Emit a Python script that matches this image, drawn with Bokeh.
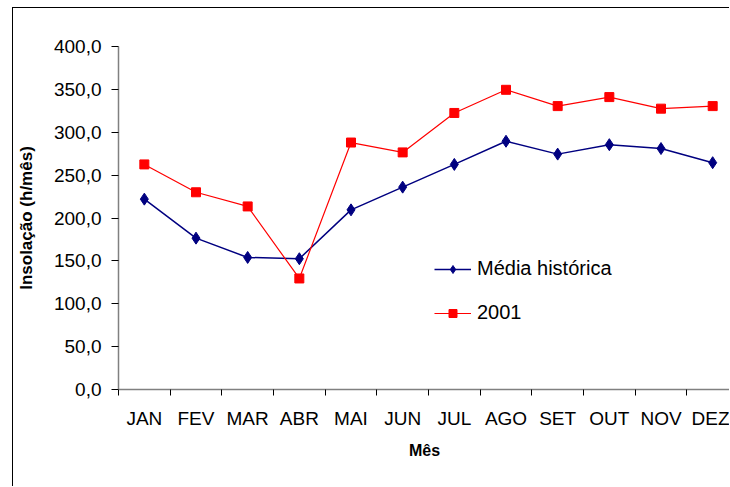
from bokeh.plotting import figure
from bokeh.models import Range1d, FixedTicker, Legend, LegendItem
from bokeh.embed import file_html
from bokeh.resources import INLINE

months = ["JAN", "FEV", "MAR", "ABR", "MAI", "JUN", "JUL", "AGO", "SET", "OUT", "NOV", "DEZ"]
media_historica = [222.0, 176.5, 154.0, 152.5, 209.5, 236.0, 262.5, 289.5, 274.5, 285.5, 281.0, 264.5]
serie_2001 = [262.5, 230.0, 213.5, 129.5, 288.0, 276.5, 322.5, 349.5, 330.5, 341.0, 327.5, 330.5]
y_ticks = [0, 50, 100, 150, 200, 250, 300, 350, 400]
y_tick_labels = ["0,0", "50,0", "100,0", "150,0", "200,0", "250,0", "300,0", "350,0", "400,0"]

x_pos = [i + 0.5 for i in range(len(months))]

FONT = "Liberation Sans"

p = figure(width=717, height=479, output_backend="svg", toolbar_location=None,
           x_range=Range1d(0, 11.845), y_range=Range1d(0, 400),
           min_border_left=105, min_border_right=0, min_border_top=38, min_border_bottom=98)
p.margin = (7, 0, 0, 12)
p.styles = {"border-left": "1px solid black", "border-top": "1px solid black"}
p.outline_line_color = None
p.xgrid.visible = False
p.ygrid.visible = False
p.background_fill_color = "white"
p.border_fill_color = "white"

# axes
xa = p.xaxis[0]
xa.ticker = FixedTicker(ticks=x_pos, minor_ticks=list(range(len(months) + 1)))
xa.major_label_overrides = {x: m for x, m in zip(x_pos, months)}
xa.major_tick_out = 0
xa.major_tick_in = 0
xa.minor_tick_out = 6
xa.minor_tick_in = 0
xa.minor_tick_line_color = "black"
xa.axis_line_color = "#808080"
xa.axis_line_width = 1.5
xa.major_label_text_font = FONT
xa.major_label_text_font_size = "19px"
xa.major_label_text_color = "black"
xa.major_label_standoff = 12
xa.axis_label = "Mês"
xa.axis_label_text_font = FONT
xa.axis_label_text_font_style = "bold"
xa.axis_label_text_font_size = "16px"
xa.axis_label_text_color = "black"
xa.axis_label_standoff = 10

ya = p.yaxis[0]
ya.ticker = FixedTicker(ticks=y_ticks, minor_ticks=[])
ya.major_label_overrides = {t: l for t, l in zip(y_ticks, y_tick_labels)}
ya.major_tick_out = 7
ya.major_tick_in = 0
ya.major_tick_line_color = "black"
ya.axis_line_color = "#808080"
ya.axis_line_width = 1.5
ya.major_label_text_font = FONT
ya.major_label_text_font_size = "19px"
ya.major_label_text_color = "black"
ya.major_label_standoff = 10
ya.axis_label = "Insolação (h/mês)"
ya.axis_label_text_font = FONT
ya.axis_label_text_font_style = "bold"
ya.axis_label_text_font_size = "17px"
ya.axis_label_text_color = "black"
ya.axis_label_standoff = 15

# series
l1 = p.line(x_pos, media_historica, line_color="#000080", line_width=1.5)
m1 = p.scatter(x_pos, media_historica, marker="diamond", size=12,
               fill_color="#000080", line_color="#000080")
l2 = p.line(x_pos, serie_2001, line_color="#FF0000", line_width=1.2)
m2 = p.scatter(x_pos, serie_2001, marker="square", size=9,
               fill_color="#FF0000", line_color="#FF0000")

legend = Legend(items=[LegendItem(label="Média histórica", renderers=[l1, m1]),
                       LegendItem(label="2001", renderers=[l2, m2])],
                location=(316, 65), orientation="vertical")
legend.label_text_font = FONT
legend.label_text_font_size = "20px"
legend.label_text_color = "black"
legend.glyph_width = 37
legend.glyph_height = 20
legend.label_height = 20
legend.spacing = 21
legend.padding = 0
legend.margin = 0
legend.label_standoff = 6
legend.border_line_color = None
legend.background_fill_alpha = 0
p.add_layout(legend, "center")

open("out.html", "w").write(file_html(p, INLINE))
